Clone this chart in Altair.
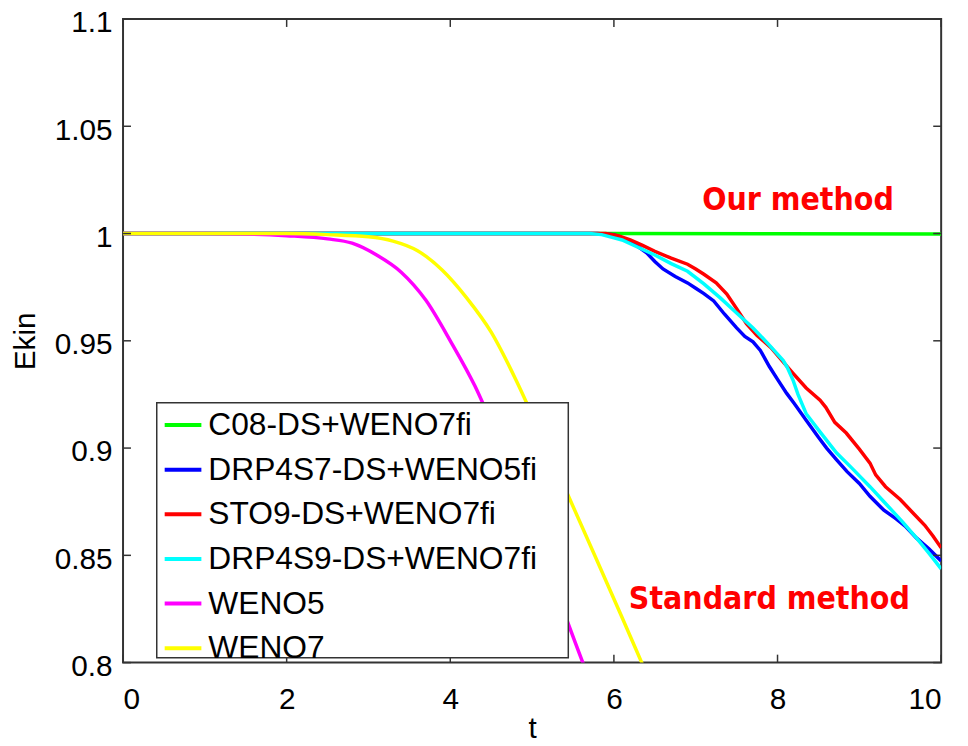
import altair as alt
import pandas as pd

# ---------------- data ----------------
series = ["C08-DS+WENO7fi", "DRP4S7-DS+WENO5fi", "STO9-DS+WENO7fi",
          "DRP4S9-DS+WENO7fi", "WENO5", "WENO7"]
colors = ["#00ff00", "#0000ff", "#ff0000", "#00ffff", "#ff00ff", "#ffff00"]

c08_t = [0, 2, 4, 6, 8, 10]
c08_e = [1.0, 1.0, 1.0, 1.0, 0.9999, 0.9998]

drp7_t = [0, 5.8, 6.0, 6.2, 6.4, 6.5, 6.6, 6.75, 6.9, 7.0, 7.1, 7.22, 7.35, 7.5, 7.6,
          7.7, 7.79, 7.9, 8.0, 8.11, 8.2, 8.35, 8.5, 8.6, 8.72, 8.85, 9.0, 9.13, 9.3,
          9.45, 9.56, 9.7, 9.85, 10.0]
drp7_e = [1.0, 1.0, 0.9995, 0.9965, 0.991, 0.987, 0.9835, 0.980, 0.977, 0.9745, 0.972,
          0.9686, 0.9625, 0.956, 0.952, 0.9495, 0.9455, 0.938, 0.932, 0.9256, 0.921,
          0.913, 0.905, 0.900, 0.8946, 0.889, 0.8835, 0.8775, 0.871, 0.867, 0.8636,
          0.858, 0.853, 0.8474]

sto9_t = [0, 5.9, 6.05, 6.2, 6.35, 6.5, 6.7, 6.9, 7.0, 7.1, 7.25, 7.38, 7.5, 7.62, 7.75,
          7.92, 8.05, 8.19, 8.35, 8.52, 8.59, 8.7, 8.84, 9.0, 9.13, 9.2, 9.32, 9.5, 9.65,
          9.8, 9.9, 10.0]
sto9_e = [1.0, 1.0, 0.999, 0.997, 0.9945, 0.9917, 0.9885, 0.9857, 0.9835, 0.981, 0.977,
          0.9718, 0.965, 0.958, 0.9525, 0.9468, 0.941, 0.9348, 0.928, 0.9223, 0.919,
          0.912, 0.907, 0.8995, 0.893, 0.8875, 0.882, 0.876, 0.870, 0.864, 0.859, 0.8535]

drp9_t = [0, 5.7, 5.85, 6.0, 6.1, 6.3, 6.5, 6.7, 6.9, 7.1, 7.3, 7.5, 7.7, 7.9, 8.07,
          8.12, 8.19, 8.25, 8.35, 8.5, 8.72, 8.9, 9.13, 9.3, 9.53, 9.7, 9.85, 10.0]
drp9_e = [1.0, 1.0, 0.9995, 0.998, 0.997, 0.9935, 0.990, 0.986, 0.9824, 0.9765, 0.970,
          0.963, 0.956, 0.948, 0.9408, 0.9375, 0.9316, 0.925, 0.916, 0.9085, 0.8978,
          0.891, 0.882, 0.875, 0.8655, 0.858, 0.851, 0.8437]

weno5_t = [0, 1.0, 1.5, 2.0, 2.5, 2.8, 3.1, 3.4, 3.7, 4.0, 4.3, 4.6, 5.0, 5.3, 5.62, 5.75]
weno5_e = [1.0, 1.0, 0.9998, 0.9990, 0.9975, 0.9955, 0.990, 0.982, 0.969, 0.950,
           0.929, 0.903, 0.866, 0.833, 0.800, 0.787]

weno7_t = [0, 2.0, 2.5, 3.0, 3.3, 3.6, 3.9, 4.2, 4.5, 4.8, 5.1, 5.44, 5.8, 6.1, 6.34, 6.5]
weno7_e = [1.0, 1.0, 0.9995, 0.9985, 0.9965, 0.992, 0.983, 0.970, 0.954, 0.932, 0.907,
           0.878, 0.847, 0.821, 0.800, 0.786]

x_ticks = [0, 2, 4, 6, 8, 10]
y_ticks = [0.8, 0.85, 0.9, 0.95, 1.0, 1.05, 1.1]

notes = ["Our method", "Standard method"]
notes_t = [8.25, 7.9]
notes_e = [1.0111, 0.8252]

# ---------------- tables ----------------
def frame(name, ts, es):
    return pd.DataFrame({"series": name, "t": ts, "E": es})

jagged = pd.concat([frame(series[0], c08_t, c08_e), frame(series[1], drp7_t, drp7_e),
                    frame(series[2], sto9_t, sto9_e), frame(series[3], drp9_t, drp9_e)],
                   ignore_index=True)
smooth = pd.concat([frame(series[4], weno5_t, weno5_e), frame(series[5], weno7_t, weno7_e)],
                   ignore_index=True)
xt = pd.DataFrame({"t": x_ticks})
yt = pd.DataFrame({"E": y_ticks})
notes_df = pd.DataFrame({"label": notes, "t": notes_t, "E": notes_e})

W, H = 825, 649
FONT = "Liberation Sans"
AX = "#333333"
# legend frame (pixels inside the plot area)
LEG_X, LEG_Y, LEG_W, LEG_H = 34, 387, 415, 257

x_scale = alt.Scale(domain=[0, 10], nice=False, zero=False)
y_scale = alt.Scale(domain=[0.8, 1.1], nice=False, zero=False)

x_axis = alt.Axis(values=x_ticks, ticks=False, domain=False, grid=False, labelFontSize=30,
                  labelFont=FONT, labelColor="black", labelPadding=22, title="t",
                  titleFont=FONT, titleFontSize=30, titleFontWeight="normal",
                  titleColor="black", titlePadding=0)
y_axis = alt.Axis(values=y_ticks, ticks=False, domain=False, grid=False, labelFontSize=30,
                  labelFont=FONT, labelColor="black", labelPadding=11, labelOffset=4,
                  format="~g", title="Ekin", titleFont=FONT, titleFontSize=30,
                  titleFontWeight="normal", titleColor="black", titlePadding=14)

X = alt.X("t:Q", scale=x_scale, axis=x_axis)
Y = alt.Y("E:Q", scale=y_scale, axis=y_axis)

color = alt.Color(
    "series:N", sort=series,
    scale=alt.Scale(domain=series, range=colors),
    legend=alt.Legend(orient="none", legendX=LEG_X, legendY=LEG_Y, title=None,
                      symbolType="stroke", symbolSize=1369, symbolStrokeWidth=4,
                      labelFontSize=32, labelFont=FONT, labelColor="black",
                      labelOffset=5, rowPadding=8, padding=2, symbolOffset=4,
                      labelLimit=800))

lines1 = alt.Chart(jagged).mark_line(strokeWidth=3.5, clip=True).encode(
    x=X, y=Y, color=color)
lines2 = alt.Chart(smooth).mark_line(strokeWidth=3.5, clip=True, interpolate="monotone").encode(
    x=X, y=Y, color=color)

legend_box = alt.Chart(pd.DataFrame({"box": [0]})).mark_rect(
    fill="white", stroke=AX, strokeWidth=1.5
).encode(x=alt.value(LEG_X), x2=alt.value(LEG_X + LEG_W),
         y=alt.value(LEG_Y), y2=alt.value(LEG_Y + LEG_H))

tick_len = 8
rule = dict(color=AX, strokeWidth=1.5)
bottom_ticks = alt.Chart(xt).mark_rule(**rule).encode(
    x=X, y=alt.value(H - tick_len), y2=alt.value(H))
top_ticks = alt.Chart(xt).mark_rule(**rule).encode(
    x=X, y=alt.value(0), y2=alt.value(tick_len))
left_ticks = alt.Chart(yt).mark_rule(**rule).encode(
    y=Y, x=alt.value(0), x2=alt.value(tick_len))
right_ticks = alt.Chart(yt).mark_rule(**rule).encode(
    y=Y, x=alt.value(W - tick_len), x2=alt.value(W))

annot = alt.Chart(notes_df).mark_text(
    font="Liberation Sans Narrow, DejaVu Sans Condensed, Liberation Sans",
    fontSize=32, fontWeight="bold", color="#ff0000", align="center", baseline="alphabetic"
).encode(x=X, y=Y, text="label:N")

chart = alt.layer(lines1, lines2, bottom_ticks, top_ticks, left_ticks, right_ticks,
                  legend_box, annot).properties(
    width=W, height=H,
    autosize=alt.AutoSizeParams(type="none"),
    padding={"left": 116, "top": 8, "right": 19, "bottom": 81},
    background="white",
).configure_view(stroke=AX, strokeWidth=2)

chart.save("out.html", embed_options={"renderer": "svg", "actions": False})
